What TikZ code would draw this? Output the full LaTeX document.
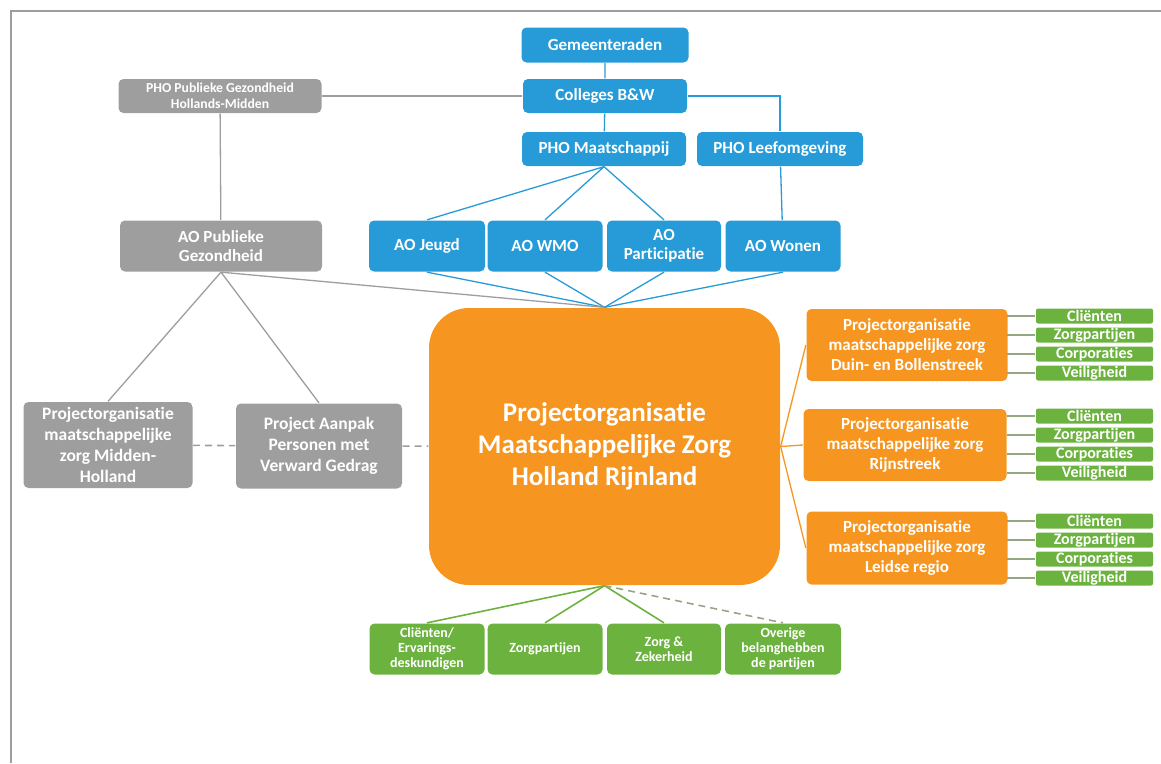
\documentclass[tikz,border=0pt]{standalone}
\usepackage{fontspec}
\setmainfont{Carlito}[Ligatures=NoCommon]
\definecolor{azure}{RGB}{38,155,215}
\definecolor{stone}{RGB}{158,158,158}
\definecolor{amber}{RGB}{246,150,32}
\definecolor{leaf}{RGB}{108,178,62}
\definecolor{moss}{RGB}{150,165,130}
\newcommand{\fs}[2]{\bfseries\fontsize{#1}{#2}\selectfont}
\begin{document}
\begin{tikzpicture}[x=1pt,y=-1pt,line width=1.3pt,
  bx/.style 2 args={rounded corners=5pt,text=white,align=center,inner sep=0pt,minimum width=#1pt,minimum height=#2pt},
  bb/.style={fill=azure,font=\fs{17}{19}},
  gb/.style={fill=stone,font=\fs{17.5}{21}},
  ob/.style={fill=amber,font=\fs{17}{20}},
  lb/.style={fill=leaf,font=\fs{14}{15}},
  tag/.style={fill=leaf,rounded corners=2pt,text=white,inner sep=0pt,minimum width=117pt,minimum height=15pt,font=\fs{16}{16}},
  dsh/.style={dash pattern=on 7pt off 5pt,line width=1.6pt}]
\useasboundingbox (0,0) rectangle (1161,763);
\draw[stone,line width=1.5pt] (11,763) -- (11,11) -- (1161,11);
% top: municipalities
\node[bx={167}{35},bb] (gem) at (605,45) {Gemeenteraden};
\node[bx={164}{34},bb] (bw) at (605,96) {Colleges B\&W};
\node[bx={164}{34},bb] (pm) at (604,149) {PHO Maatschappij};
\node[bx={166}{34},bb] (pl) at (780,149) {PHO Leefomgeving};
\node[bx={203}{34},gb,font=\fs{13.7}{16}] (pg) at (220,96) {PHO Publieke Gezondheid\\Hollands-Midden};
% advisory bodies
\node[bx={202}{51},gb,font=\fs{17}{19}] (aopg) at (221,246) {AO Publieke\\Gezondheid};
\node[bx={116}{51},bb] (aoj) at (427,246) {AO Jeugd};
\node[bx={115}{51},bb] (aow) at (545,246) {AO WMO};
\node[bx={114}{51},bb] (aop) at (664,246) {AO\\Participatie};
\node[bx={115}{51},bb] (aowo) at (783,246) {AO Wonen};
% centre
\node[fill=amber,rounded corners=40pt,minimum width=351pt,minimum height=277pt,text=white,align=center,font=\fs{27}{32}] (hr) at (604.5,446.5) {Projectorganisatie\\Maatschappelijke Zorg\\Holland Rijnland};
\node[bx={169}{86},gb] (mh) at (108,445) {Projectorganisatie\\maatschappelijke\\zorg Midden-\\Holland};
\node[bx={166}{85},gb] (vg) at (319,446) {Project Aanpak\\Personen met\\Verward Gedrag};
% subregions
\node[bx={201}{72},ob] (db) at (907,345) {Projectorganisatie\\maatschappelijke zorg\\Duin- en Bollenstreek};
\node[bx={203}{72},ob] (rs) at (905,445) {Projectorganisatie\\maatschappelijke zorg\\Rijnstreek};
\node[bx={201}{73},ob] (lr) at (907,548) {Projectorganisatie\\maatschappelijke zorg\\Leidse regio};
\foreach \r/\y in {db/316,rs/416,lr/521}{
  \node[tag] (\r1) at (1094.5,\y) {Cliënten};
  \node[tag] (\r2) at (1094.5,\y+19) {Zorgpartijen};
  \node[tag] (\r3) at (1094.5,\y+38) {Corporaties};
  \node[tag] (\r4) at (1094.5,\y+57) {Veiligheid};
  \foreach \k in {1,2,3,4} \draw[moss] (\r1.west |- \r\k.west) ++(-28,0) -- (\r\k.west);
}
% stakeholders
\node[bx={115}{51},lb] (ce) at (427,649) {Cliënten/\\Ervarings-\\deskundigen};
\node[bx={115}{51},lb] (zp) at (545,649) {Zorgpartijen};
\node[bx={114}{51},lb] (zz) at (664,649) {Zorg \&\\Zekerheid};
\node[bx={116}{51},lb] (ob) at (783,649) {Overige\\belanghebben\\de partijen};
% connectors
\draw[azure] (gem) -- (bw) -- (pm);
\draw[azure] (bw.east) -| (pl.north);
\draw[azure] (pl) -- (aowo);
\draw[stone] (bw) -- (pg);
\draw[stone] (pg) -- (aopg);
\draw[azure] (pm.south) -- (aoj.north) (pm.south) -- (aow.north) (pm.south) -- (aop.north);
\foreach \n in {aoj,aow,aop,aowo} \draw[azure] (\n.south) -- (hr.north);
\draw[stone] (aopg.south) -- (hr.north);
\draw[stone] (aopg.south) -- (mh.north) (aopg.south) -- (vg.north);
\draw[stone,dsh] (mh) -- (vg) (vg) -- (hr);
\foreach \n in {db,rs,lr} \draw[amber] (hr.east) -- (\n.west);
\foreach \n in {ce,zp,zz} \draw[leaf,line width=1.6pt] (hr.south) -- (\n.north);
\draw[moss,dsh] (hr.south) -- (ob.north);
\end{tikzpicture}
\end{document}
